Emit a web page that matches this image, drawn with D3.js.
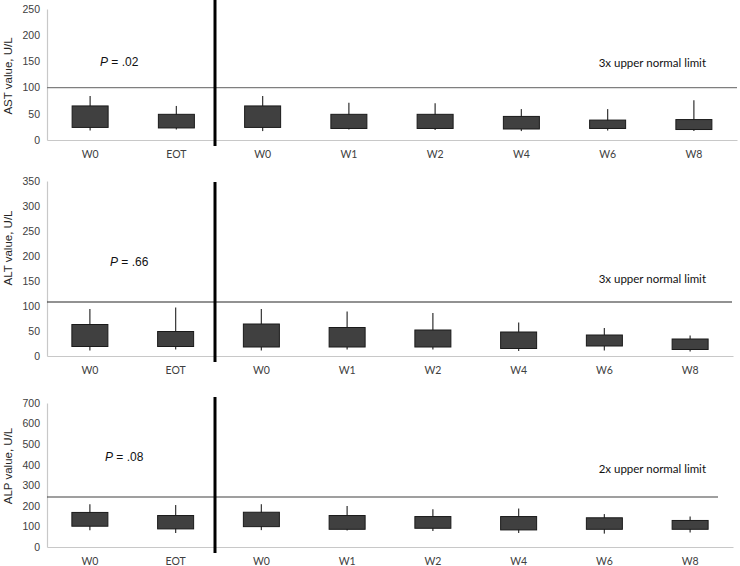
<!DOCTYPE html>
<html>
<head>
<meta charset="utf-8">
<script src="https://cdn.jsdelivr.net/npm/d3@7"></script>
<style>
  body { margin: 0; background: #fff; }
  svg { display: block; }
</style>
</head>
<body>
<div id="chart"></div>
<script>
// visit labels (W0 + EOT on the left, follow-up visits on the right)
var categories = ["W0", "EOT", "W0 ", "W1", "W2", "W4", "W6", "W8"];

// AST, U/L
var astMin = [18, 20, 17, 20, 19, 17, 18, 17];
var astQ1  = [24, 23, 24, 22, 22, 21, 22, 20];
var astQ3  = [65, 49, 65, 49, 49, 45, 38, 39];
var astMax = [84, 65, 84, 71, 70, 59, 59, 76];
var astTicks = [0, 50, 100, 150, 200, 250];
var astLimit = 100;

// ALT, U/L
var altMin = [11, 13, 11, 13, 13, 10, 11, 9];
var altQ1  = [19, 19, 18, 18, 18, 15, 20, 13];
var altQ3  = [63, 49, 64, 57, 52, 48, 42, 34];
var altMax = [94, 97, 94, 89, 86, 67, 56, 41];
var altTicks = [0, 50, 100, 150, 200, 250, 300, 350];
var altLimit = 108;

// ALP, U/L
var alpMin = [82, 68, 82, 80, 78, 68, 65, 70];
var alpQ1  = [101, 88, 99, 86, 91, 83, 86, 86];
var alpQ3  = [168, 153, 169, 153, 148, 148, 142, 129];
var alpMax = [208, 204, 208, 199, 184, 187, 160, 148];
var alpTicks = [0, 100, 200, 300, 400, 500, 600, 700];
var alpLimit = 243;

var svg = d3.select("#chart")
  .append("svg")
    .attr("width", 740)
    .attr("height", 566);

function drawPanel(p) {
  var x = d3.scaleBand()
    .domain(categories)
    .range([47, p.right])
    .paddingInner(0)
    .paddingOuter(0);

  var y = d3.scaleLinear()
    .domain([0, d3.max(p.ticks)])
    .range([p.bottom, p.top]);

  var g = svg.append("g");

  // y axis line + labels (no tick marks)
  var yAxis = g.append("g")
    .attr("transform", "translate(47,0)")
    .call(d3.axisLeft(y).tickValues(p.ticks).tickSize(0).tickPadding(7));
  yAxis.select(".domain").attr("stroke", "#c8c8c8").attr("stroke-width", 1.2);
  yAxis.selectAll("text")
    .attr("font-family", "Liberation Sans, Arial, sans-serif")
    .attr("font-size", 10.5)
    .attr("fill", "#404040");

  // x axis baseline + labels
  var xAxis = g.append("g")
    .attr("transform", "translate(0," + p.bottom + ")")
    .call(d3.axisBottom(x).tickSize(0).tickPadding(11)
      .tickFormat(function(d) { return d.trim(); }));
  xAxis.select(".domain").attr("stroke", "#c8c8c8").attr("stroke-width", 1.2);
  xAxis.selectAll("text")
    .attr("font-family", "Lato, sans-serif")
    .attr("font-size", 10.5)
    .attr("fill", "#404040");

  // y axis title
  g.append("text")
    .attr("transform", "translate(12," + p.titleY + ") rotate(-90)")
    .attr("text-anchor", "middle")
    .attr("font-family", "Liberation Sans, Arial, sans-serif")
    .attr("font-size", 11.5)
    .attr("fill", "#262626")
    .text(p.title);

  // upper normal limit reference line
  g.append("line")
    .attr("x1", 47).attr("x2", p.limitEnd)
    .attr("y1", y(p.limit)).attr("y2", y(p.limit))
    .attr("stroke", p.limitColor)
    .attr("stroke-width", 1.2);

  g.append("text")
    .attr("x", 706).attr("y", p.limitTextY)
    .attr("text-anchor", "end")
    .attr("font-family", "Lato, sans-serif")
    .attr("font-size", 11.5)
    .attr("fill", "#111")
    .text(p.limitText);

  // P value
  var pt = g.append("text")
    .attr("x", p.pX).attr("y", p.pY)
    .attr("font-family", "Liberation Sans, Arial, sans-serif")
    .attr("font-size", 12)
    .attr("fill", "#111");
  pt.append("tspan").attr("font-style", "italic").text("P");
  pt.append("tspan").text(" = " + p.pValue);

  var bw = 36;
  var boxes = g.selectAll(".box")
    .data(categories)
    .enter().append("g");

  // whiskers
  boxes.append("line")
    .attr("x1", function(d) { return x(d) + x.bandwidth() / 2; })
    .attr("x2", function(d) { return x(d) + x.bandwidth() / 2; })
    .attr("y1", function(d, i) { return y(p.min[i]); })
    .attr("y2", function(d, i) { return y(p.max[i]); })
    .attr("stroke", "#404040")
    .attr("stroke-width", 1.3);

  // boxes
  boxes.append("rect")
    .attr("x", function(d) { return x(d) + x.bandwidth() / 2 - bw / 2; })
    .attr("width", bw)
    .attr("y", function(d, i) { return y(p.q3[i]); })
    .attr("height", function(d, i) { return y(p.q1[i]) - y(p.q3[i]); })
    .attr("fill", "#404040")
    .attr("stroke", "#1a1a1a")
    .attr("stroke-width", 1);

  // thick divider between the two groups
  g.append("line")
    .attr("x1", 215).attr("x2", 215)
    .attr("y1", p.divTop).attr("y2", p.bottom + 6)
    .attr("stroke", "#000")
    .attr("stroke-width", 3);
}

drawPanel({
  top: 9, bottom: 140, right: 737, ticks: astTicks,
  min: astMin, q1: astQ1, q3: astQ3, max: astMax,
  title: "AST value, U/L", titleY: 76,
  limit: astLimit, limitEnd: 737, limitColor: "#7f7f7f",
  limitText: "3x upper normal limit", limitTextY: 67,
  pValue: ".02", pX: 100, pY: 66, divTop: 0
});

drawPanel({
  top: 181, bottom: 356, right: 733, ticks: altTicks,
  min: altMin, q1: altQ1, q3: altQ3, max: altMax,
  title: "ALT value, U/L", titleY: 248,
  limit: altLimit, limitEnd: 732, limitColor: "#262626",
  limitText: "3x upper normal limit", limitTextY: 283,
  pValue: ".66", pX: 110, pY: 266, divTop: 182
});

drawPanel({
  top: 403, bottom: 547, right: 733, ticks: alpTicks,
  min: alpMin, q1: alpQ1, q3: alpQ3, max: alpMax,
  title: "ALP value, U/L", titleY: 466,
  limit: alpLimit, limitEnd: 718, limitColor: "#404040",
  limitText: "2x upper normal limit", limitTextY: 473,
  pValue: ".08", pX: 105, pY: 461, divTop: 397
});
</script>
</body>
</html>
